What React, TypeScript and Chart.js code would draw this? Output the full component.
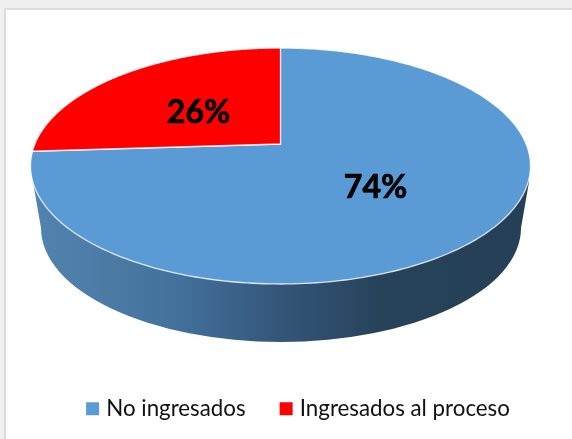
import React, { useEffect, useRef } from "react";
import { Chart, registerables } from "chart.js";

Chart.register(...registerables);

const categories = ["No ingresados", "Ingresados al proceso"];
const shares = [74, 26];
const colors = ["#5B9BD5", "#FF0000"];
const shownLabels = ["74%", "26%"];

// Perspective projection of the pie's top face onto the page
const apexX = 280.5;
const apexY = 144;
const faceA = 245.6;
const faceB = 113.9;
const tilt = 0.1864;
const project = (angle: number): [number, number] => {
  const u = Math.cos(angle);
  const v = Math.sin(angle);
  const w = 1 - tilt * v;
  return [apexX + (faceA * u) / w, apexY + (faceB * v) / w];
};

const labelSpots: [number, number][] = [[375.5, 188], [198.5, 113]];

const piePlugin = {
  id: "perspectivePie",
  beforeDatasetsDraw(chart: any) {
    const { ctx } = chart;
    const arcs = chart.getDatasetMeta(0).data;

    // Side wall
    const gradient = ctx.createLinearGradient(33, 0, 529, 0);
    gradient.addColorStop(0, "#5282AF");
    gradient.addColorStop(0.17, "#4A7AA4");
    gradient.addColorStop(0.3, "#42709A");
    gradient.addColorStop(0.5, "#34557A");
    gradient.addColorStop(0.7, "#27435A");
    gradient.addColorStop(1, "#243F56");
    ctx.save();
    ctx.beginPath();
    ctx.moveTo(529, 182);
    ctx.lineTo(521, 228);
    ctx.ellipse(281, 228, 240, 114, 0, 0, Math.PI);
    ctx.lineTo(33, 182);
    ctx.lineTo(33, 166);
    ctx.lineTo(529, 166);
    ctx.closePath();
    ctx.fillStyle = gradient;
    ctx.fill();

    // Top face slices, from the arc elements' angles
    arcs.forEach((arc: any, i: number) => {
      const { startAngle, endAngle } = arc;
      ctx.beginPath();
      ctx.moveTo(apexX, apexY);
      const steps = 240;
      for (let s = 0; s <= steps; s++) {
        const [x, y] = project(startAngle + ((endAngle - startAngle) * s) / steps);
        ctx.lineTo(x, y);
      }
      ctx.closePath();
      ctx.fillStyle = colors[i];
      ctx.fill();
      ctx.strokeStyle = "rgba(255,255,255,0.8)";
      ctx.lineWidth = 1.3;
      ctx.stroke();
    });

    // Percent labels
    ctx.fillStyle = "#000000";
    ctx.strokeStyle = "#000000";
    ctx.lineWidth = 0.7;
    ctx.font = "bold 32px Lato";
    ctx.textAlign = "center";
    ctx.textBaseline = "middle";
    shownLabels.forEach((text, i) => {
      ctx.fillText(text, labelSpots[i][0], labelSpots[i][1]);
      ctx.strokeText(text, labelSpots[i][0], labelSpots[i][1]);
    });
    ctx.restore();
    return false;
  },
};

export default function App() {
  const ref = useRef<HTMLCanvasElement>(null);
  useEffect(() => {
    const chart = new Chart(ref.current!, {
      type: "pie",
      data: {
        labels: categories,
        datasets: [{ data: shares, backgroundColor: colors, borderWidth: 0 }],
      },
      options: {
        responsive: false,
        animation: false,
        rotation: 0,
        layout: { padding: { left: 28, bottom: 0 } },
        plugins: {
          tooltip: { enabled: false },
          legend: {
            position: "bottom",
            labels: {
              usePointStyle: true,
              pointStyle: "rect",
              boxWidth: 5,
              boxHeight: 13,
              padding: 38,
              color: "#111111",
              font: { family: "Lato", size: 22.3 },
            },
          },
        },
      },
      plugins: [piePlugin],
    });
    return () => chart.destroy();
  }, []);
  return (
    <div style={{ position: "fixed", inset: 0, background: "#F0F0F0", overflow: "hidden" }}>
      <div
        style={{
          position: "absolute",
          left: 4,
          top: 8,
          width: 600,
          height: 500,
          background: "#FFFFFF",
          border: "2px solid #DDDDDD",
        }}
      />
      <canvas ref={ref} width={572} height={430} style={{ position: "absolute", left: 0, top: 0 }} />
    </div>
  );
}
